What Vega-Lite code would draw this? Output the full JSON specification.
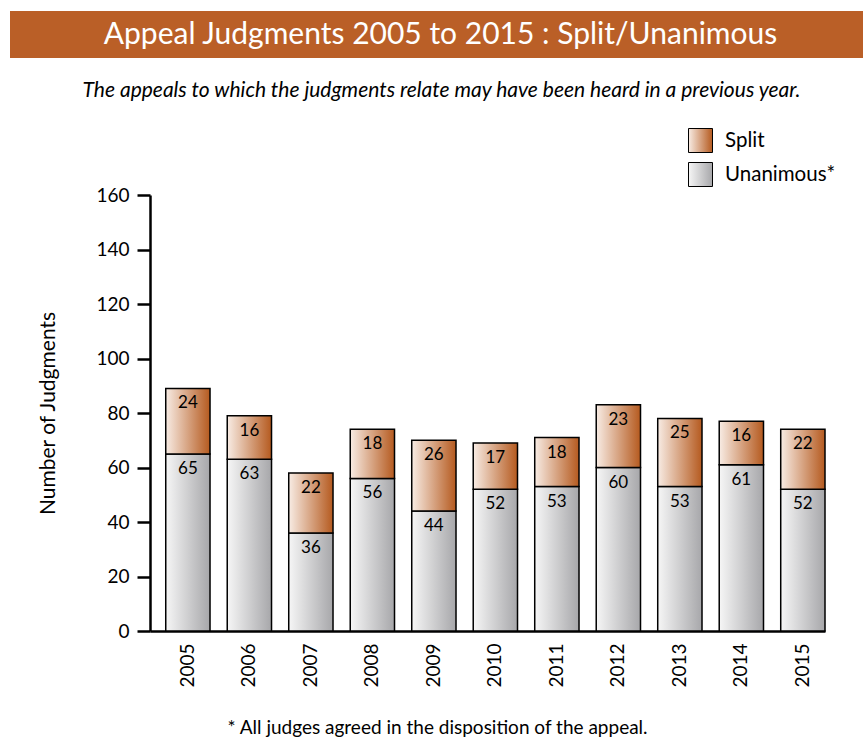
{
  "$schema": "https://vega.github.io/schema/vega-lite/v6.json",
  "padding": {"left": 10, "top": 11, "right": 0, "bottom": 0},
  "background": "white",
  "bounds": "flush",
  "spacing": 137,
  "config": {"view": {"stroke": null}, "font": "Lato"},
  "vconcat": [
    {
      "width": 853,
      "height": 47,
      "view": {"fill": "#ba5f27", "stroke": null},
      "data": {"values": [{"t": "Appeal Judgments 2005 to 2015 : Split/Unanimous"}]},
      "mark": {"type": "text", "color": "white", "fontSize": 30, "font": "Lato", "dx": 4},
      "encoding": {"text": {"field": "t"}}
    },
    {
      "bounds": "flush",
      "spacing": 0,
      "hconcat": [
        {
          "width": 140,
          "height": 436,
          "data": {"values": [{"a": 1}]},
          "mark": {"type": "point", "opacity": 0}
        },
        {
          "width": 675,
          "height": 436,
          "title": {
            "text": "The appeals to which the judgments relate may have been heard in a previous year.",
            "font": "Lato",
            "fontStyle": "italic",
            "fontWeight": "normal",
            "fontSize": 21,
            "color": "black",
            "anchor": "middle",
            "frame": "group",
            "dx": -46,
            "offset": 85
          },
          "data": {
            "values": [
              {"year": "2005", "cat": "Unanimous*", "ord": 1, "count": 65},
              {"year": "2005", "cat": "Split", "ord": 2, "count": 24},
              {"year": "2006", "cat": "Unanimous*", "ord": 1, "count": 63},
              {"year": "2006", "cat": "Split", "ord": 2, "count": 16},
              {"year": "2007", "cat": "Unanimous*", "ord": 1, "count": 36},
              {"year": "2007", "cat": "Split", "ord": 2, "count": 22},
              {"year": "2008", "cat": "Unanimous*", "ord": 1, "count": 56},
              {"year": "2008", "cat": "Split", "ord": 2, "count": 18},
              {"year": "2009", "cat": "Unanimous*", "ord": 1, "count": 44},
              {"year": "2009", "cat": "Split", "ord": 2, "count": 26},
              {"year": "2010", "cat": "Unanimous*", "ord": 1, "count": 52},
              {"year": "2010", "cat": "Split", "ord": 2, "count": 17},
              {"year": "2011", "cat": "Unanimous*", "ord": 1, "count": 53},
              {"year": "2011", "cat": "Split", "ord": 2, "count": 18},
              {"year": "2012", "cat": "Unanimous*", "ord": 1, "count": 60},
              {"year": "2012", "cat": "Split", "ord": 2, "count": 23},
              {"year": "2013", "cat": "Unanimous*", "ord": 1, "count": 53},
              {"year": "2013", "cat": "Split", "ord": 2, "count": 25},
              {"year": "2014", "cat": "Unanimous*", "ord": 1, "count": 61},
              {"year": "2014", "cat": "Split", "ord": 2, "count": 16},
              {"year": "2015", "cat": "Unanimous*", "ord": 1, "count": 52},
              {"year": "2015", "cat": "Split", "ord": 2, "count": 22}
            ]
          },
          "encoding": {
            "x": {
              "field": "year",
              "type": "ordinal",
              "scale": {"paddingInner": 0.28, "paddingOuter": 0.128, "align": 1},
              "axis": {
                "title": "* All judges agreed in the disposition of the appeal.",
                "titleFont": "Lato",
                "titleFontSize": 19,
                "titleFontWeight": "normal",
                "titleColor": "black",
                "titleX": 287,
                "titleY": 96,
                "titleBaseline": "middle",
                "labelAngle": -90,
                "labelFontSize": 19,
                "labelColor": "black",
                "labelPadding": 12,
                "ticks": false,
                "domainColor": "black",
                "domainWidth": 2.5
              }
            },
            "y": {
              "field": "count",
              "type": "quantitative",
              "stack": "zero",
              "scale": {"domain": [0, 160]},
              "axis": {
                "title": "Number of Judgments",
                "titleFont": "Lato",
                "titleFontSize": 21,
                "titleFontWeight": "normal",
                "titleColor": "black",
                "titlePadding": 37,
                "values": [0, 20, 40, 60, 80, 100, 120, 140, 160],
                "labelFontSize": 19,
                "labelColor": "black",
                "labelPadding": 8,
                "tickSize": 13,
                "tickWidth": 2.5,
                "tickColor": "black",
                "domainColor": "black",
                "domainWidth": 2.5,
                "grid": false
              }
            },
            "order": {"field": "ord"}
          },
          "layer": [
            {
              "mark": {"type": "bar", "stroke": "black", "strokeWidth": 1.5},
              "encoding": {
                "color": {
                  "field": "cat",
                  "type": "nominal",
                  "scale": {
                    "domain": ["Split", "Unanimous*"],
                    "range": [
                      {"expr": "{gradient: 'linear', x1: 0, y1: 0, x2: 1, y2: 0, stops: [{offset: 0, color: '#f8ece4'}, {offset: 1, color: '#b55a1f'}]}"},
                      {"expr": "{gradient: 'linear', x1: 0, y1: 0, x2: 1, y2: 0, stops: [{offset: 0, color: '#f6f6f6'}, {offset: 1, color: '#a7a7aa'}]}"}
                    ]
                  },
                  "legend": {
                    "title": null,
                    "orient": "none",
                    "legendX": 678,
                    "legendY": 117,
                    "padding": 0,
                    "symbolType": "square",
                    "symbolSize": 576,
                    "symbolStrokeColor": "black",
                    "symbolStrokeWidth": 1,
                    "labelFont": "Lato",
                    "labelFontSize": 20.5,
                    "labelColor": "black",
                    "labelOffset": 12,
                    "rowPadding": 5
                  }
                }
              }
            },
            {
              "mark": {"type": "text", "baseline": "middle", "dy": 15, "fontSize": 17, "font": "Lato", "color": "black"},
              "encoding": {
                "detail": {"field": "cat"},
                "text": {"field": "count", "type": "quantitative"}
              }
            }
          ]
        }
      ]
    }
  ]
}
